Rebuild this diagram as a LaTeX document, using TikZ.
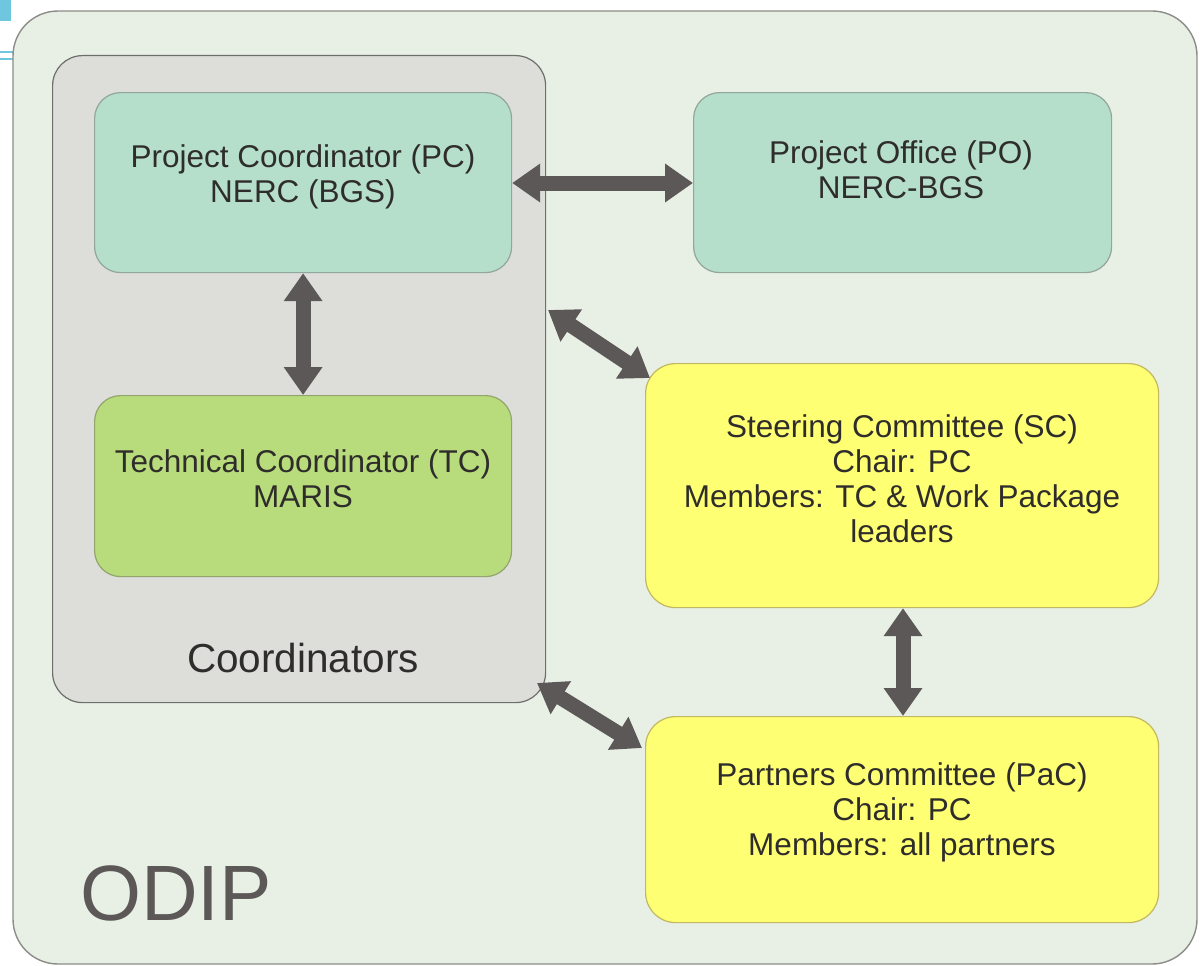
\documentclass[tikz,border=0pt]{standalone}
\usepackage{fontspec}
\setmainfont{Liberation Sans}
\usetikzlibrary{arrows.meta}
\definecolor{outerfill}{HTML}{E8F0E5}
\definecolor{outerline}{HTML}{8C8C88}
\definecolor{coordfill}{HTML}{DDDDDA}
\definecolor{coordline}{HTML}{6E6E6C}
\definecolor{mint}{HTML}{B5DFCB}
\definecolor{mintline}{HTML}{92A69C}
\definecolor{lime}{HTML}{B8DC7C}
\definecolor{limeline}{HTML}{93A46C}
\definecolor{yel}{HTML}{FFFF73}
\definecolor{yelline}{HTML}{C2B862}
\definecolor{arrowgray}{HTML}{5C5857}
\definecolor{txt}{HTML}{2F2D2C}
\definecolor{deco}{HTML}{6EC6DF}
\begin{document}
\begin{tikzpicture}[x=1pt,y=-1pt,
  box/.style={draw, line width=1.2pt, rounded corners=26pt, anchor=north west, inner sep=0pt},
  lbl/.style={text=txt, align=center, font=\fontsize{31.5}{35}\selectfont},
  bigarrow/.style={draw=arrowgray, line width=15pt,
     {Triangle[length=28pt,width=37pt,fill=arrowgray]}-{Triangle[length=28pt,width=37pt,fill=arrowgray]}},
]
\useasboundingbox (0,0) rectangle (1202,966);
\fill[white] (0,0) rectangle (1202,966);
% slide template decoration
\fill[deco] (0,0) rectangle (11,21);
\draw[deco, line width=1.5pt] (0,52) -- (14,52);
\draw[deco, line width=1.5pt] (0,59) -- (14,59);
% outer frame
\draw[fill=outerfill, draw=outerline, line width=1.4pt, rounded corners=45pt] (13,11) rectangle (1197,964);
% coordinators group
\node[box, fill=coordfill, draw=coordline, rounded corners=30pt, minimum width=493pt, minimum height=647pt] (coord) at (52,55) {};
\node[text=txt, font=\fontsize{40.5}{44}\selectfont] (coordlbl) at (303,658) {Coordinators};
% boxes
\node[box, fill=mint, draw=mintline, minimum width=417pt, minimum height=180pt] (pc) at (94,92) {};
\node[box, fill=mint, draw=mintline, minimum width=418pt, minimum height=180pt] (po) at (693,92) {};
\node[box, fill=lime, draw=limeline, minimum width=417pt, minimum height=181pt] (tc) at (94,395) {};
\node[box, fill=yel, draw=yelline, rounded corners=30pt, minimum width=513pt, minimum height=244pt] (sc) at (645,363) {};
\node[box, fill=yel, draw=yelline, rounded corners=30pt, minimum width=513pt, minimum height=206pt] (pac) at (645,716) {};
% labels
\node[lbl] (pct) at (303,177) {Project Coordinator (PC)\\NERC (BGS)};
\node[lbl] (pot) at (901,170) {Project Office (PO)\\NERC-BGS};
\node[lbl] (tct) at (303,479) {Technical Coordinator (TC)\\MARIS};
\node[lbl] (sct) at (902,479) {Steering Committee (SC)\\Chair: PC\\Members: TC \& Work Package\\leaders};
\node[lbl] (pact) at (902,812) {Partners Committee (PaC)\\Chair: PC\\Members: all partners};
\node[text=arrowgray, font=\fontsize{78.5}{80}\selectfont] (odip) at (176,893) {ODIP};
% arrows
\coordinate (a1) at (548,310);
\coordinate (a2) at (650,378);
\coordinate (b1) at (537,683);
\coordinate (b2) at (642,748);
\draw[bigarrow] (pc.east |- 0,183) -- (po.west |- 0,183);
\draw[bigarrow] (pc.south) -- (tc.north);
\draw[bigarrow] (a1) -- (a2);
\draw[bigarrow] (sc.south -| 903,0) -- (pac.north -| 903,0);
\draw[bigarrow] (b1) -- (b2);
\end{tikzpicture}
\end{document}
